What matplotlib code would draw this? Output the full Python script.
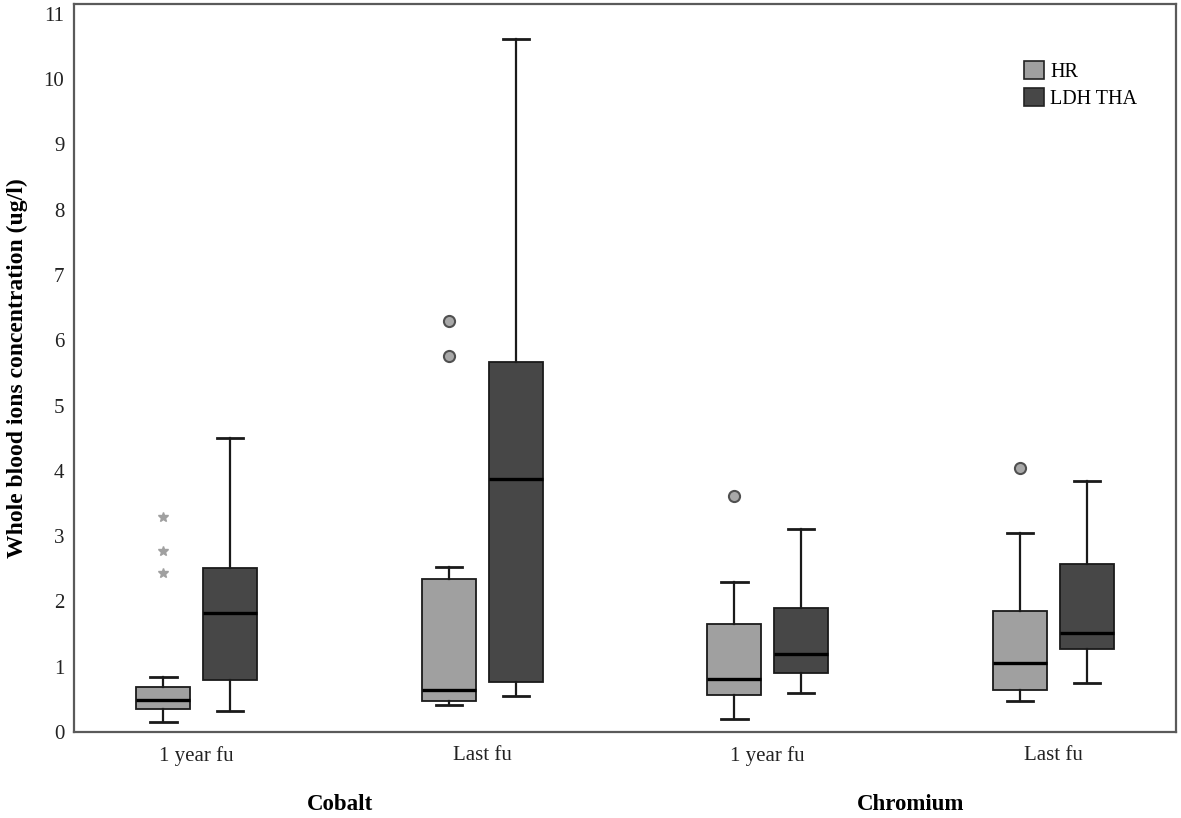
import matplotlib.pyplot as plt
from matplotlib.patches import Patch
from matplotlib.transforms import blended_transform_factory

plt.rcParams['font.family'] = ['Liberation Serif', 'DejaVu Serif']

categories = ['1 year fu', 'Last fu', '1 year fu', 'Last fu']
groups = ['Cobalt', 'Chromium']
series = ['HR', 'LDH THA']

# box stats: [whislo, q1, med, q3, whishi]
hr_stats = [
    [0.15, 0.35, 0.49, 0.69, 0.85],
    [0.42, 0.48, 0.64, 2.34, 2.53],
    [0.20, 0.56, 0.81, 1.65, 2.30],
    [0.47, 0.64, 1.05, 1.86, 3.05],
]
ldh_stats = [
    [0.32, 0.80, 1.83, 2.51, 4.51],
    [0.55, 0.76, 3.87, 5.66, 10.61],
    [0.60, 0.91, 1.20, 1.90, 3.11],
    [0.75, 1.27, 1.52, 2.58, 3.85],
]
hr_outliers = [[3.30, 2.78, 2.44], [6.29, 5.76], [3.61], [4.04]]
ldh_outliers = [[], [], [], []]
hr_extreme = [True, False, False, False]  # SPSS star vs circle

hr_color = '#a0a0a0'
ldh_color = '#474747'

fig = plt.figure(figsize=(11.81, 8.18), dpi=100)
ax = fig.add_axes([0.0627, 0.1051, 0.9331, 0.89])

offset = 0.117
width = 0.189


def draw_box(pos, st, fliers, color, star):
    stats = [dict(whislo=st[0], q1=st[1], med=st[2], q3=st[3], whishi=st[4], fliers=fliers)]
    if star:
        fp = dict(marker='*', markersize=7, markerfacecolor='#a0a0a0',
                  markeredgecolor='#a0a0a0', linestyle='none')
    else:
        fp = dict(marker='o', markersize=8, markerfacecolor='#a8a8a8',
                  markeredgecolor='#505050', markeredgewidth=1.5, linestyle='none')
    ax.bxp(stats, positions=[pos], widths=width, capwidths=0.092,
           patch_artist=True, showfliers=True,
           boxprops=dict(facecolor=color, edgecolor='#1a1a1a', linewidth=1.3),
           medianprops=dict(color='black', linewidth=2.4),
           whiskerprops=dict(color='#1a1a1a', linewidth=1.6),
           capprops=dict(color='#1a1a1a', linewidth=2.0),
           flierprops=fp, manage_ticks=False)


for i in range(len(categories)):
    draw_box(i - offset, hr_stats[i], hr_outliers[i], hr_color, hr_extreme[i])
    draw_box(i + offset, ldh_stats[i], ldh_outliers[i], ldh_color, False)

ax.set_xlim(-0.43, 3.43)
ax.set_ylim(0, 11.15)
ax.set_yticks(range(0, 12))
ax.set_xticks(range(len(categories)))
ax.set_xticklabels(categories)
ax.tick_params(axis='both', length=0, labelsize=15, colors='#222222')
ax.tick_params(axis='y', pad=7)
ax.tick_params(axis='x', pad=10)

for sp in ax.spines.values():
    sp.set_color('#5a5a5a')
    sp.set_linewidth(1.6)

ax.set_ylabel('Whole blood ions concentration (ug/l)', fontsize=17, fontweight='bold')
ax.yaxis.set_label_coords(-0.042, 0.5)

trans = blended_transform_factory(ax.transData, ax.transAxes)
ax.text(0.5, -0.100, groups[0], transform=trans, ha='center', va='center',
        fontsize=16.5, fontweight='bold')
ax.text(2.5, -0.100, groups[1], transform=trans, ha='center', va='center',
        fontsize=16.5, fontweight='bold')

handles = [Patch(facecolor=hr_color, edgecolor='#222222', linewidth=1.2),
           Patch(facecolor=ldh_color, edgecolor='#222222', linewidth=1.2)]
ax.legend(handles, series, loc='upper left', bbox_to_anchor=(0.853, 0.935),
          frameon=False, fontsize=14.5, borderpad=0, handlelength=1.0,
          handleheight=1.0, handletextpad=0.3, labelspacing=0.3)

plt.savefig('out.png', dpi=100)
